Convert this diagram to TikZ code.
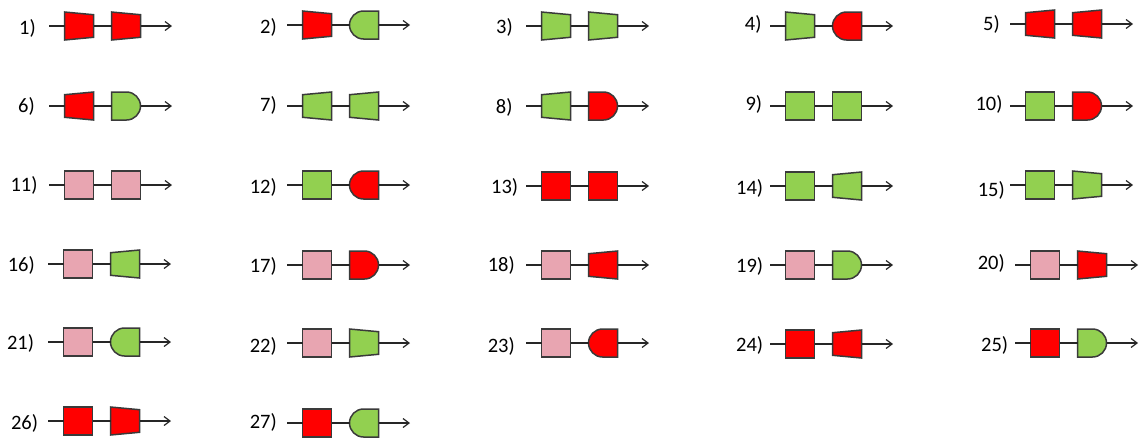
\documentclass[tikz,border=0pt]{standalone}
\usepackage{fontspec}
\setmainfont{Carlito}
\usetikzlibrary{arrows.meta}
\definecolor{cr}{HTML}{FF0000}
\definecolor{cg}{HTML}{92D050}
\definecolor{cp}{HTML}{E8A5B1}
\definecolor{edgegray}{HTML}{3A3A3A}
\tikzset{
  shpline/.style={draw=edgegray, line width=1.5pt, line join=miter},
  conn/.style={draw=black!85, line width=1.6pt},
  arr/.style={-{Straight Barb[length=6pt,width=9pt,line width=1.2pt]}},
  box/.style={draw=none, inner sep=0pt, outer sep=0pt, minimum width=29pt, minimum height=28pt},
  lbl/.style={inner sep=0pt, font=\fontsize{20.5}{23}\selectfont, anchor=east},
  S/.pic={\path[shpline, fill=#1] (-14.5,-14) rectangle (14.5,14);},
  NR/.pic={\path[shpline, fill=#1] (-14.5,-14) -- (14.5,-11.3) -- (14.5,11.3) -- (-14.5,14) -- cycle;},
  WR/.pic={\path[shpline, fill=#1] (-14.5,-11.3) -- (14.5,-14) -- (14.5,14) -- (-14.5,11.3) -- cycle;},
  DR/.pic={\path[shpline, fill=#1] (-14.5,-14) -- (0.5,-14) arc[start angle=90, end angle=-90, radius=14pt] -- (-14.5,14) -- cycle;},
  DL/.pic={\path[shpline, fill=#1] (14.5,-14) -- (-0.5,-14) arc[start angle=90, end angle=270, radius=14pt] -- (14.5,14) -- cycle;},
}
% #1 id, #2 label right x, #3 label y, #4 start x, #5 line y, #6 type1, #7 colour1, #8 type2, #9 colour2
\newcommand\grp[9]{%
  \node[lbl] (l#1) at (#2,#3) {#1)};
  \coordinate (st#1) at (#4,#5);
  \node[box] (a#1) at ([xshift=30pt]st#1) {};
  \node[box] (b#1) at ([xshift=77pt]st#1) {};
  \coordinate (en#1) at ([xshift=123pt]st#1);
  \pic at (a#1.center) {#6=#7};
  \pic at (b#1.center) {#8=#9};
  \draw[conn] (st#1) -- (a#1.west);
  \draw[conn] (a#1.east) -- (b#1.west);
  \draw[conn,arr] (b#1.east) -- (en#1);
}
\begin{document}
\begin{tikzpicture}[x=1pt,y=-1pt]
\useasboundingbox (0,0) rectangle (1145,437);
\grp{1}{36}{28}{49}{26}{NR}{cr}{NR}{cr}
\grp{2}{277}{27}{287}{25}{NR}{cr}{DL}{cg}
\grp{3}{513}{27}{526}{26}{NR}{cg}{NR}{cg}
\grp{4}{761.7}{24}{770}{26}{NR}{cg}{DL}{cr}
\grp{5}{1000}{24}{1010}{24}{WR}{cr}{WR}{cr}
\grp{6}{35}{106}{49}{106}{WR}{cr}{DR}{cg}
\grp{7}{277}{105}{287}{106}{WR}{cg}{WR}{cg}
\grp{8}{512.7}{107}{526}{106}{WR}{cg}{DR}{cr}
\grp{9}{762.3}{104}{770}{106}{S}{cg}{S}{cg}
\grp{10}{1002.7}{104}{1010}{106}{S}{cg}{DR}{cr}
\grp{11}{37.7}{185}{49}{185}{S}{cp}{S}{cp}
\grp{12}{277}{187}{287}{185}{S}{cg}{DL}{cr}
\grp{13}{518.3}{187}{526}{186}{S}{cr}{S}{cr}
\grp{14}{763.3}{188}{770}{186}{S}{cg}{WR}{cg}
\grp{15}{1005}{190}{1010}{185}{S}{cg}{NR}{cg}
\grp{16}{35}{265}{48}{264}{S}{cp}{WR}{cg}
\grp{17}{277}{266}{287}{265}{S}{cp}{DR}{cr}
\grp{18}{515}{265}{526}{265}{S}{cp}{WR}{cr}
\grp{19}{763.3}{266}{770}{265}{S}{cp}{DR}{cg}
\grp{20}{1005}{263}{1015}{265}{S}{cp}{NR}{cr}
\grp{21}{34.3}{343}{48}{342}{S}{cp}{DL}{cg}
\grp{22}{277}{346}{287}{343}{S}{cp}{NR}{cg}
\grp{23}{515}{346}{526}{343}{S}{cp}{DL}{cr}
\grp{24}{763.3}{345}{770}{344}{S}{cr}{WR}{cr}
\grp{25}{1008.3}{345}{1015}{343}{S}{cr}{DR}{cg}
\grp{26}{38.3}{423}{48}{421}{S}{cr}{NR}{cr}
\grp{27}{277}{422}{287}{423}{S}{cr}{DL}{cg}
\end{tikzpicture}
\end{document}
